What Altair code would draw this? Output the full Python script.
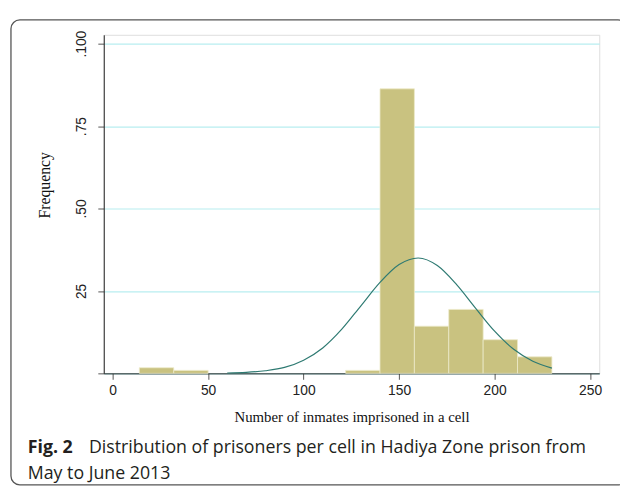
import altair as alt
import pandas as pd

# Histogram bins (lower edge, upper edge) and bar heights
bin_start = [14, 32, 50, 68, 86, 104, 122, 140, 158, 176, 194, 212]
bin_end = [32, 50, 68, 86, 104, 122, 140, 158, 176, 194, 212, 230]
bar_height = [1.7, 0.9, 0, 0, 0, 0, 0.9, 86.3, 14.3, 19.4, 10.2, 5.0]

# Fitted normal curve
curve_x = [60, 70, 80, 90, 100, 110, 120, 130, 140, 150, 160, 170, 180, 190, 200, 210, 220, 230]
curve_y = [0.1, 0.3, 0.8, 1.8, 4.0, 7.7, 13.4, 20.5, 27.6, 33.0, 35.0, 32.7, 27.0, 19.8, 12.8, 7.3, 3.7, 1.6]

x_ticks = [0, 50, 100, 150, 200, 250]
y_ticks = [0, 25, 50, 75, 100]
y_tick_labels = ["", "25", ".50", ".75", ".100"]

caption_bold = "Fig. 2"
caption_line1 = "Distribution of prisoners per cell in Hadiya Zone prison from"
caption_line2 = "May to June 2013"

bars = pd.DataFrame({"start": bin_start, "end": bin_end, "h": bar_height})
bars = bars[bars["h"] > 0]
curve = pd.DataFrame({"x": curve_x, "y": curve_y})

label_expr = " : ".join(
    [f"datum.value == {v} ? '{l}'" for v, l in zip(y_ticks, y_tick_labels)]
) + " : ''"

xscale = alt.Scale(domain=[-4.65, 254.8], nice=False, zero=False)
yscale = alt.Scale(domain=[0, 102.7], nice=False)

xaxis = alt.Axis(
    values=x_ticks, grid=False, title="Number of inmates imprisoned in a cell",
    titleX=251, titleY=44, titleAlign="center", titleBaseline="middle",
    titleFont="Liberation Serif", titleFontSize=15, titleFontWeight="normal",
    titleColor="#111", labelFont="Liberation Sans", labelFontSize=14,
    labelColor="#222", labelPadding=4, tickSize=6, tickColor="#555",
    domainColor="#222", labelFlush=False,
)
yaxis = alt.Axis(
    values=y_ticks, grid=True, gridColor="#b8eef0", gridWidth=1.2,
    labelExpr=label_expr, labelAngle=270, labelAlign="center",
    labelBaseline="bottom", labelFont="Liberation Sans", labelFontSize=14,
    labelColor="#222", labelPadding=9, tickSize=6, tickColor="#555",
    domainColor="#222", title="Frequency", titleAngle=270, titleX=-60,
    titleY=152, titleAlign="center", titleBaseline="middle",
    titleFont="Liberation Serif", titleFontSize=16, titleFontWeight="normal",
    titleColor="#111",
)

bar_layer = alt.Chart(bars).mark_bar(
    color="#c9c280", stroke="#ece9c8", strokeWidth=0.8
).encode(
    x=alt.X("start:Q", scale=xscale, axis=xaxis),
    x2="end:Q",
    y=alt.Y("h:Q", scale=yscale, axis=yaxis),
    y2=alt.datum(0),
)

line_layer = alt.Chart(curve).mark_line(
    color="#2e7a72", strokeWidth=1.2, interpolate="monotone"
).encode(x=alt.X("x:Q", scale=xscale), y=alt.Y("y:Q", scale=yscale))

frame = alt.Chart(pd.DataFrame({"a": [0]})).mark_rect(
    fill=None, stroke="#555", strokeWidth=1.3, cornerRadius=9
).encode(
    x=alt.value(-94), x2=alt.value(530), y=alt.value(-15), y2=alt.value(456)
)

cap_font = "Open Sans"
cap_size = 18

cap_bold = alt.Chart(pd.DataFrame({"t": [caption_bold]})).mark_text(
    font=cap_font, fontSize=cap_size, fontWeight="bold", align="left",
    baseline="middle", color="#231f20"
).encode(text="t:N", x=alt.value(-77), y=alt.value(419))

cap1 = alt.Chart(pd.DataFrame({"t": [caption_line1]})).mark_text(
    font=cap_font, fontSize=cap_size, align="left", baseline="middle",
    color="#231f20"
).encode(text="t:N", x=alt.value(-15), y=alt.value(419))

cap2 = alt.Chart(pd.DataFrame({"t": [caption_line2]})).mark_text(
    font=cap_font, fontSize=cap_size, align="left", baseline="middle",
    color="#231f20"
).encode(text="t:N", x=alt.value(-77), y=alt.value(445))

chart = alt.layer(frame, bar_layer, line_layer, cap_bold, cap1, cap2).properties(
    width=502, height=343,
    autosize=alt.AutoSizeParams(type="none"),
    padding={"left": 97, "top": 24, "right": 21, "bottom": 112},
).configure_view(stroke=None).configure(background="white")

chart.save("out.html", embed_options={"renderer": "svg", "actions": False})
